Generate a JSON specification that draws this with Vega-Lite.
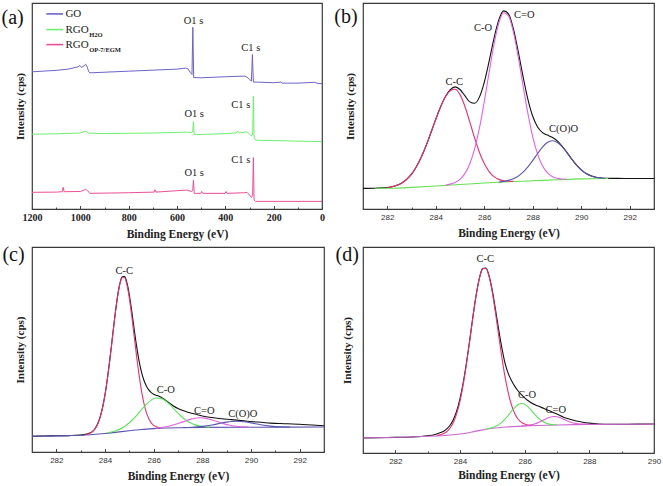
{
"$schema": "https://vega.github.io/schema/vega-lite/v6.json",
"padding": {"left": 0, "top": 2, "right": 5, "bottom": 0},
"columns": 2,
"spacing": {"row": 2, "column": 6},
"resolve": {"scale": {"color": "independent", "x": "independent", "y": "independent"}},
"config": {
 "view": {"stroke": "#3a3a3a", "strokeWidth": 1.2},
 "font": "Liberation Serif",
 "axis": {"grid": false, "domain": false, "titleFont": "Liberation Serif", "titleFontWeight": "bold", "titleFontSize": 11.5, "titleColor": "#222", "labelFont": "Liberation Sans", "labelFontSize": 8, "labelColor": "#333", "tickColor": "#444", "tickWidth": 1, "labelFlush": false, "labelOverlap": false},
 "axisY": {"ticks": false, "labels": false, "titleFontSize": 11}
},
"datasets": {
 "a": [
  {"e":1200,"i":66.6,"s":"GO"},{"e":1100,"i":67.3,"s":"GO"},{"e":1050,"i":67.9,"s":"GO"},{"e":1010,"i":69.0,"s":"GO"},{"e":1002,"i":69.7,"s":"GO"},{"e":995,"i":68.7,"s":"GO"},{"e":985,"i":69.5,"s":"GO"},{"e":978,"i":70.3,"s":"GO"},{"e":972,"i":69.0,"s":"GO"},{"e":965,"i":66.6,"s":"GO"},{"e":960,"i":66.1,"s":"GO"},{"e":800,"i":66.9,"s":"GO"},{"e":600,"i":67.9,"s":"GO"},{"e":565,"i":68.4,"s":"GO"},{"e":555,"i":68.1,"s":"GO"},{"e":545,"i":66.3,"s":"GO"},{"e":538,"i":65.3,"s":"GO"},{"e":534.5,"i":88.2,"s":"GO"},{"e":531,"i":63.8,"s":"GO"},{"e":500,"i":63.7,"s":"GO"},{"e":400,"i":64.2,"s":"GO"},{"e":320,"i":64.5,"s":"GO"},{"e":310,"i":64.0,"s":"GO"},{"e":300,"i":62.9,"s":"GO"},{"e":292,"i":62.1,"s":"GO"},{"e":288,"i":75.0,"s":"GO"},{"e":284,"i":61.6,"s":"GO"},{"e":270,"i":61.6,"s":"GO"},{"e":200,"i":61.3,"s":"GO"},{"e":170,"i":61.6,"s":"GO"},{"e":165,"i":61.1,"s":"GO"},{"e":100,"i":61.1,"s":"GO"},{"e":30,"i":61.5,"s":"GO"},{"e":20,"i":61.0,"s":"GO"},{"e":0,"i":60.8,"s":"GO"},
  {"e":1200,"i":36.3,"s":"H2O"},{"e":1100,"i":36.5,"s":"H2O"},{"e":1000,"i":36.9,"s":"H2O"},{"e":978,"i":37.9,"s":"H2O"},{"e":970,"i":36.9,"s":"H2O"},{"e":900,"i":36.6,"s":"H2O"},{"e":700,"i":36.9,"s":"H2O"},{"e":560,"i":37.3,"s":"H2O"},{"e":540,"i":37.1,"s":"H2O"},{"e":535,"i":37.4,"s":"H2O"},{"e":532,"i":42.4,"s":"H2O"},{"e":529,"i":36.3,"s":"H2O"},{"e":520,"i":36.1,"s":"H2O"},{"e":400,"i":36.6,"s":"H2O"},{"e":355,"i":36.9,"s":"H2O"},{"e":349,"i":37.9,"s":"H2O"},{"e":343,"i":36.9,"s":"H2O"},{"e":320,"i":37.3,"s":"H2O"},{"e":310,"i":37.4,"s":"H2O"},{"e":300,"i":36.3,"s":"H2O"},{"e":292,"i":35.5,"s":"H2O"},{"e":287,"i":36.3,"s":"H2O"},{"e":284,"i":54.8,"s":"H2O"},{"e":281,"i":34.7,"s":"H2O"},{"e":275,"i":33.4,"s":"H2O"},{"e":200,"i":33.2,"s":"H2O"},{"e":0,"i":32.7,"s":"H2O"},
  {"e":1200,"i":8.1,"s":"OP"},{"e":1100,"i":8.2,"s":"OP"},{"e":1075,"i":8.4,"s":"OP"},{"e":1071,"i":10.5,"s":"OP"},{"e":1067,"i":8.4,"s":"OP"},{"e":1000,"i":8.5,"s":"OP"},{"e":978,"i":9.5,"s":"OP"},{"e":970,"i":8.9,"s":"OP"},{"e":960,"i":7.6,"s":"OP"},{"e":800,"i":7.9,"s":"OP"},{"e":695,"i":8.2,"s":"OP"},{"e":691,"i":9.4,"s":"OP"},{"e":687,"i":8.2,"s":"OP"},{"e":560,"i":9.2,"s":"OP"},{"e":540,"i":8.5,"s":"OP"},{"e":535,"i":8.9,"s":"OP"},{"e":532,"i":14.0,"s":"OP"},{"e":529,"i":7.6,"s":"OP"},{"e":502,"i":7.6,"s":"OP"},{"e":498,"i":8.5,"s":"OP"},{"e":494,"i":7.6,"s":"OP"},{"e":401,"i":7.6,"s":"OP"},{"e":397,"i":8.5,"s":"OP"},{"e":393,"i":7.6,"s":"OP"},{"e":320,"i":7.9,"s":"OP"},{"e":310,"i":8.1,"s":"OP"},{"e":300,"i":6.8,"s":"OP"},{"e":292,"i":5.6,"s":"OP"},{"e":287,"i":6.5,"s":"OP"},{"e":284,"i":25.0,"s":"OP"},{"e":281,"i":4.4,"s":"OP"},{"e":275,"i":3.7,"s":"OP"},{"e":0,"i":3.7,"s":"OP"}
 ],
 "aleg": [
  {"e":1140.6,"i":94.7,"s":"GO"},{"e":1071.4,"i":94.7,"s":"GO"},
  {"e":1140.6,"i":87.1,"s":"H2O"},{"e":1071.4,"i":87.1,"s":"H2O"},
  {"e":1140.6,"i":79.8,"s":"OP"},{"e":1071.4,"i":79.8,"s":"OP"}
 ],
 "alab": [
  {"e":532,"i":91.1,"t":"O1 s","k":"peak"},{"e":294.5,"i":78.2,"t":"C1 s","k":"peak"},
  {"e":529,"i":46,"t":"O1 s","k":"peak"},{"e":336,"i":50.5,"t":"C1 s","k":"peak"},
  {"e":529,"i":17.6,"t":"O1 s","k":"peak"},{"e":336,"i":23.7,"t":"C1 s","k":"peak"},
  {"e":1061.7,"i":94.7,"t":"GO","k":"main"},{"e":1061.7,"i":87.1,"t":"RGO","k":"main"},{"e":1061.7,"i":79.8,"t":"RGO","k":"main"},
  {"e":963.5,"i":84.6,"t":"H2O","k":"sub"},{"e":963.5,"i":77.3,"t":"OP-7/EGM","k":"sub"},
  {"e":1280,"i":92.7,"t":"(a)","k":"panel"}
 ],
 "b": [
  {"e":281,"i":10.0,"s":"env"},{"e":281.5,"i":10.1,"s":"env"},{"e":282,"i":10.4,"s":"env"},{"e":282.2,"i":10.8,"s":"env"},{"e":282.4,"i":11.5,"s":"env"},{"e":282.6,"i":12.65,"s":"env"},{"e":282.8,"i":14.4,"s":"env"},{"e":283.0,"i":16.9,"s":"env"},{"e":283.2,"i":20.5,"s":"env"},{"e":283.4,"i":25.1,"s":"env"},{"e":283.6,"i":30.7,"s":"env"},{"e":283.8,"i":37.0,"s":"env"},{"e":284.0,"i":43.5,"s":"env"},{"e":284.2,"i":49.6,"s":"env"},{"e":284.4,"i":54.6,"s":"env"},{"e":284.6,"i":57.9,"s":"env"},{"e":284.8,"i":59.3,"s":"env"},{"e":285.0,"i":58.0,"s":"env"},{"e":285.2,"i":55.0,"s":"env"},{"e":285.4,"i":52.0,"s":"env"},{"e":285.6,"i":51.3,"s":"env"},{"e":285.8,"i":54.3,"s":"env"},{"e":286.0,"i":61.5,"s":"env"},{"e":286.2,"i":71.7,"s":"env"},{"e":286.4,"i":82.75,"s":"env"},{"e":286.6,"i":91.8,"s":"env"},{"e":286.8,"i":96.2,"s":"env"},{"e":287.0,"i":94.7,"s":"env"},{"e":287.2,"i":87.5,"s":"env"},{"e":287.4,"i":76.5,"s":"env"},{"e":287.6,"i":64.3,"s":"env"},{"e":287.8,"i":53.25,"s":"env"},{"e":288.0,"i":45.0,"s":"env"},{"e":288.2,"i":39.8,"s":"env"},{"e":288.4,"i":37.1,"s":"env"},{"e":288.6,"i":35.9,"s":"env"},{"e":288.8,"i":34.8,"s":"env"},{"e":289.0,"i":33.2,"s":"env"},{"e":289.2,"i":30.7,"s":"env"},{"e":289.4,"i":27.6,"s":"env"},{"e":289.6,"i":24.3,"s":"env"},{"e":289.8,"i":21.4,"s":"env"},{"e":290.0,"i":19.0,"s":"env"},{"e":290.2,"i":17.2,"s":"env"},{"e":290.4,"i":16.1,"s":"env"},{"e":290.6,"i":15.4,"s":"env"},{"e":290.8,"i":15.1,"s":"env"},{"e":291.0,"i":14.9,"s":"env"},{"e":291.5,"i":14.85,"s":"env"},{"e":292,"i":14.8,"s":"env"},{"e":293,"i":14.8,"s":"env"},
  {"e":281.5,"i":10.05,"s":"base"},{"e":282.2,"i":10.1,"s":"base"},{"e":283,"i":10.5,"s":"base"},{"e":284,"i":11.2,"s":"base"},{"e":285,"i":11.9,"s":"base"},{"e":286,"i":12.6,"s":"base"},{"e":287,"i":13.2,"s":"base"},{"e":288,"i":13.7,"s":"base"},{"e":289,"i":14.2,"s":"base"},{"e":290,"i":14.6,"s":"base"},{"e":291.1,"i":14.8,"s":"base"},
  {"e":282.0,"i":10.43,"s":"cc"},{"e":282.2,"i":10.8,"s":"cc"},{"e":282.4,"i":11.52,"s":"cc"},{"e":282.6,"i":12.65,"s":"cc"},{"e":282.8,"i":14.39,"s":"cc"},{"e":283.0,"i":16.94,"s":"cc"},{"e":283.2,"i":20.5,"s":"cc"},{"e":283.4,"i":25.12,"s":"cc"},{"e":283.6,"i":30.72,"s":"cc"},{"e":283.8,"i":37.03,"s":"cc"},{"e":284.0,"i":43.54,"s":"cc"},{"e":284.2,"i":49.59,"s":"cc"},{"e":284.4,"i":54.45,"s":"cc"},{"e":284.6,"i":57.45,"s":"cc"},{"e":284.8,"i":58.14,"s":"cc"},{"e":285.0,"i":55.53,"s":"cc"},{"e":285.2,"i":49.86,"s":"cc"},{"e":285.4,"i":42.4,"s":"cc"},{"e":285.6,"i":34.57,"s":"cc"},{"e":285.8,"i":27.56,"s":"cc"},{"e":286.0,"i":22.04,"s":"cc"},{"e":286.2,"i":18.16,"s":"cc"},{"e":286.4,"i":15.73,"s":"cc"},{"e":286.6,"i":14.38,"s":"cc"},{"e":286.8,"i":13.72,"s":"cc"},{"e":287.0,"i":13.47,"s":"cc"},{"e":287.2,"i":13.4,"s":"cc"},
  {"e":284.4,"i":11.66,"s":"ceo"},{"e":284.6,"i":12.09,"s":"ceo"},{"e":284.8,"i":12.89,"s":"ceo"},{"e":285.0,"i":14.4,"s":"ceo"},{"e":285.2,"i":17.17,"s":"ceo"},{"e":285.4,"i":21.82,"s":"ceo"},{"e":285.6,"i":29.06,"s":"ceo"},{"e":285.8,"i":39.22,"s":"ceo"},{"e":286.0,"i":52.02,"s":"ceo"},{"e":286.2,"i":66.26,"s":"ceo"},{"e":286.4,"i":79.86,"s":"ceo"},{"e":286.6,"i":90.27,"s":"ceo"},{"e":286.8,"i":95.27,"s":"ceo"},{"e":287.0,"i":93.73,"s":"ceo"},{"e":287.2,"i":86.02,"s":"ceo"},{"e":287.4,"i":73.9,"s":"ceo"},{"e":287.6,"i":59.9,"s":"ceo"},{"e":287.8,"i":46.4,"s":"ceo"},{"e":288.0,"i":35.07,"s":"ceo"},{"e":288.2,"i":26.64,"s":"ceo"},{"e":288.4,"i":20.99,"s":"ceo"},{"e":288.6,"i":17.62,"s":"ceo"},{"e":288.8,"i":15.8,"s":"ceo"},{"e":289.0,"i":14.93,"s":"ceo"},{"e":289.2,"i":14.58,"s":"ceo"},{"e":289.4,"i":14.46,"s":"ceo"},
  {"e":286.6,"i":13.09,"s":"coo"},{"e":286.8,"i":13.4,"s":"coo"},{"e":287.0,"i":13.9,"s":"coo"},{"e":287.2,"i":14.69,"s":"coo"},{"e":287.4,"i":15.97,"s":"coo"},{"e":287.6,"i":17.87,"s":"coo"},{"e":287.8,"i":20.45,"s":"coo"},{"e":288.0,"i":23.59,"s":"coo"},{"e":288.2,"i":26.96,"s":"coo"},{"e":288.4,"i":30.04,"s":"coo"},{"e":288.6,"i":32.24,"s":"coo"},{"e":288.8,"i":33.1,"s":"coo"},{"e":289.0,"i":32.44,"s":"coo"},{"e":289.2,"i":30.42,"s":"coo"},{"e":289.4,"i":27.52,"s":"coo"},{"e":289.6,"i":24.33,"s":"coo"},{"e":289.8,"i":21.37,"s":"coo"},{"e":290.0,"i":18.97,"s":"coo"},{"e":290.2,"i":17.21,"s":"coo"},{"e":290.4,"i":16.07,"s":"coo"},{"e":290.6,"i":15.42,"s":"coo"},{"e":290.8,"i":15.08,"s":"coo"},{"e":291.0,"i":14.93,"s":"coo"}
 ],
 "blab": [
  {"e":284.76,"i":61.7,"t":"C-C","k":"peak"},{"e":285.95,"i":87.9,"t":"C-O","k":"peak"},{"e":287.65,"i":94.3,"t":"C=O","k":"peak"},{"e":289.27,"i":38.7,"t":"C(O)O","k":"peak"},
  {"e":280.3,"i":93.1,"t":"(b)","k":"panel"}
 ],
 "c": [
  {"e":281,"i":7.7,"s":"env"},{"e":281.5,"i":7.8,"s":"env"},{"e":282,"i":7.9,"s":"env"},{"e":282.5,"i":8.0,"s":"env"},{"e":283.0,"i":8.3,"s":"env"},{"e":283.2,"i":8.6,"s":"env"},{"e":283.4,"i":9.4,"s":"env"},{"e":283.5,"i":10.2,"s":"env"},{"e":283.6,"i":11.6,"s":"env"},{"e":283.7,"i":13.8,"s":"env"},{"e":283.8,"i":17.1,"s":"env"},{"e":283.9,"i":21.8,"s":"env"},{"e":284.0,"i":28.0,"s":"env"},{"e":284.1,"i":36.0,"s":"env"},{"e":284.2,"i":45.3,"s":"env"},{"e":284.3,"i":55.5,"s":"env"},{"e":284.4,"i":65.6,"s":"env"},{"e":284.5,"i":74.7,"s":"env"},{"e":284.6,"i":81.6,"s":"env"},{"e":284.7,"i":85.4,"s":"env"},{"e":284.8,"i":85.7,"s":"env"},{"e":284.9,"i":82.6,"s":"env"},{"e":285.0,"i":76.6,"s":"env"},{"e":285.1,"i":68.6,"s":"env"},{"e":285.2,"i":59.8,"s":"env"},{"e":285.3,"i":51.5,"s":"env"},{"e":285.4,"i":44.5,"s":"env"},{"e":285.5,"i":39.0,"s":"env"},{"e":285.6,"i":35.0,"s":"env"},{"e":285.7,"i":32.2,"s":"env"},{"e":285.8,"i":30.3,"s":"env"},{"e":285.9,"i":29.0,"s":"env"},{"e":286.0,"i":28.2,"s":"env"},{"e":286.1,"i":27.7,"s":"env"},{"e":286.2,"i":27.3,"s":"env"},{"e":286.4,"i":26.0,"s":"env"},{"e":286.6,"i":24.3,"s":"env"},{"e":286.8,"i":22.6,"s":"env"},{"e":287.0,"i":21.2,"s":"env"},{"e":287.2,"i":20.2,"s":"env"},{"e":287.4,"i":19.4,"s":"env"},{"e":287.7,"i":18.5,"s":"env"},{"e":288.0,"i":17.6,"s":"env"},{"e":288.4,"i":16.8,"s":"env"},{"e":288.8,"i":16.2,"s":"env"},{"e":289.2,"i":15.8,"s":"env"},{"e":289.6,"i":15.3,"s":"env"},{"e":290.0,"i":14.9,"s":"env"},{"e":290.8,"i":14.1,"s":"env"},{"e":291.5,"i":13.8,"s":"env"},{"e":292.0,"i":13.5,"s":"env"},{"e":292.5,"i":13.2,"s":"env"},{"e":293.0,"i":12.8,"s":"env"},
  {"e":281,"i":7.7,"s":"base"},{"e":282.5,"i":8.0,"s":"base"},{"e":283,"i":8.2,"s":"base"},{"e":283.5,"i":8.5,"s":"base"},{"e":284,"i":9.0,"s":"base"},{"e":284.5,"i":9.7,"s":"base"},{"e":285,"i":10.4,"s":"base"},{"e":285.5,"i":11.0,"s":"base"},{"e":286,"i":11.4,"s":"base"},{"e":286.5,"i":11.7,"s":"base"},{"e":287,"i":11.85,"s":"base"},{"e":288,"i":12.0,"s":"base"},{"e":290,"i":12.1,"s":"base"},{"e":293,"i":12.2,"s":"base"},
  {"e":283.2,"i":8.5,"s":"cc"},{"e":283.3,"i":8.8,"s":"cc"},{"e":283.4,"i":9.28,"s":"cc"},{"e":283.5,"i":10.09,"s":"cc"},{"e":283.6,"i":11.48,"s":"cc"},{"e":283.7,"i":13.66,"s":"cc"},{"e":283.8,"i":16.93,"s":"cc"},{"e":283.9,"i":21.58,"s":"cc"},{"e":284.0,"i":27.83,"s":"cc"},{"e":284.1,"i":35.74,"s":"cc"},{"e":284.2,"i":45.05,"s":"cc"},{"e":284.3,"i":55.21,"s":"cc"},{"e":284.4,"i":65.35,"s":"cc"},{"e":284.5,"i":74.4,"s":"cc"},{"e":284.6,"i":81.26,"s":"cc"},{"e":284.7,"i":85.01,"s":"cc"},{"e":284.8,"i":85.15,"s":"cc"},{"e":284.9,"i":81.68,"s":"cc"},{"e":285.0,"i":75.1,"s":"cc"},{"e":285.1,"i":66.31,"s":"cc"},{"e":285.2,"i":56.43,"s":"cc"},{"e":285.3,"i":46.53,"s":"cc"},{"e":285.4,"i":37.48,"s":"cc"},{"e":285.5,"i":29.83,"s":"cc"},{"e":285.6,"i":23.76,"s":"cc"},{"e":285.7,"i":19.29,"s":"cc"},{"e":285.8,"i":16.2,"s":"cc"},{"e":285.9,"i":14.2,"s":"cc"},{"e":286.0,"i":12.99,"s":"cc"},{"e":286.1,"i":12.3,"s":"cc"},{"e":286.2,"i":11.94,"s":"cc"},{"e":286.3,"i":11.78,"s":"cc"},
  {"e":284.1,"i":9.34,"s":"co"},{"e":284.3,"i":9.87,"s":"co"},{"e":284.5,"i":10.63,"s":"co"},{"e":284.7,"i":11.72,"s":"co"},{"e":284.9,"i":13.29,"s":"co"},{"e":285.1,"i":15.36,"s":"co"},{"e":285.3,"i":17.89,"s":"co"},{"e":285.5,"i":20.68,"s":"co"},{"e":285.7,"i":23.28,"s":"co"},{"e":285.9,"i":25.3,"s":"co"},{"e":286.1,"i":26.32,"s":"co"},{"e":286.3,"i":26.14,"s":"co"},{"e":286.5,"i":24.85,"s":"co"},{"e":286.7,"i":22.7,"s":"co"},{"e":286.9,"i":20.21,"s":"co"},{"e":287.1,"i":17.8,"s":"co"},{"e":287.3,"i":15.76,"s":"co"},{"e":287.5,"i":14.25,"s":"co"},{"e":287.7,"i":13.24,"s":"co"},{"e":287.9,"i":12.64,"s":"co"},{"e":288.1,"i":12.31,"s":"co"},{"e":288.3,"i":12.13,"s":"co"},
  {"e":286.1,"i":11.63,"s":"ceo"},{"e":286.3,"i":11.92,"s":"ceo"},{"e":286.5,"i":12.34,"s":"ceo"},{"e":286.7,"i":12.84,"s":"ceo"},{"e":286.9,"i":13.51,"s":"ceo"},{"e":287.1,"i":14.31,"s":"ceo"},{"e":287.3,"i":15.15,"s":"ceo"},{"e":287.5,"i":15.92,"s":"ceo"},{"e":287.7,"i":16.47,"s":"ceo"},{"e":287.9,"i":16.69,"s":"ceo"},{"e":288.1,"i":16.51,"s":"ceo"},{"e":288.3,"i":16.0,"s":"ceo"},{"e":288.5,"i":15.28,"s":"ceo"},{"e":288.7,"i":14.48,"s":"ceo"},{"e":288.9,"i":13.73,"s":"ceo"},{"e":289.1,"i":13.13,"s":"ceo"},{"e":289.3,"i":12.7,"s":"ceo"},{"e":289.5,"i":12.41,"s":"ceo"},{"e":289.7,"i":12.25,"s":"ceo"},{"e":289.9,"i":12.17,"s":"ceo"},
  {"e":287.2,"i":11.92,"s":"coo"},{"e":287.6,"i":12.1,"s":"coo"},{"e":288.0,"i":12.51,"s":"coo"},{"e":288.4,"i":13.2,"s":"coo"},{"e":288.8,"i":14.15,"s":"coo"},{"e":289.0,"i":14.57,"s":"coo"},{"e":289.2,"i":14.86,"s":"coo"},{"e":289.4,"i":14.97,"s":"coo"},{"e":289.6,"i":14.88,"s":"coo"},{"e":289.8,"i":14.61,"s":"coo"},{"e":290.0,"i":14.21,"s":"coo"},{"e":290.4,"i":13.3,"s":"coo"},{"e":290.8,"i":12.64,"s":"coo"},{"e":291.2,"i":12.3,"s":"coo"},{"e":291.6,"i":12.2,"s":"coo"}
 ],
 "clab": [
  {"e":284.79,"i":88.1,"t":"C-C","k":"peak"},{"e":286.5,"i":30.2,"t":"C-O","k":"peak"},{"e":288.08,"i":19.8,"t":"C=O","k":"peak"},{"e":289.66,"i":18.5,"t":"C(O)O","k":"peak"},
  {"e":280.24,"i":96.3,"t":"(c)","k":"panel"}
 ],
 "d": [
  {"e":281,"i":7.3,"s":"env"},{"e":281.5,"i":7.4,"s":"env"},{"e":282,"i":7.6,"s":"env"},{"e":282.5,"i":7.8,"s":"env"},{"e":283.0,"i":8.4,"s":"env"},{"e":283.2,"i":8.9,"s":"env"},{"e":283.4,"i":9.9,"s":"env"},{"e":283.5,"i":10.6,"s":"env"},{"e":283.6,"i":11.8,"s":"env"},{"e":283.7,"i":13.6,"s":"env"},{"e":283.8,"i":16.4,"s":"env"},{"e":283.9,"i":20.5,"s":"env"},{"e":284.0,"i":26.4,"s":"env"},{"e":284.1,"i":34.2,"s":"env"},{"e":284.2,"i":43.8,"s":"env"},{"e":284.3,"i":54.8,"s":"env"},{"e":284.4,"i":66.2,"s":"env"},{"e":284.5,"i":76.7,"s":"env"},{"e":284.6,"i":84.9,"s":"env"},{"e":284.7,"i":89.5,"s":"env"},{"e":284.8,"i":89.8,"s":"env"},{"e":284.9,"i":86.0,"s":"env"},{"e":285.0,"i":78.8,"s":"env"},{"e":285.1,"i":69.4,"s":"env"},{"e":285.2,"i":59.5,"s":"env"},{"e":285.3,"i":50.5,"s":"env"},{"e":285.4,"i":43.1,"s":"env"},{"e":285.5,"i":38.3,"s":"env"},{"e":285.6,"i":34.9,"s":"env"},{"e":285.7,"i":32.2,"s":"env"},{"e":285.8,"i":30.1,"s":"env"},{"e":285.9,"i":28.3,"s":"env"},{"e":286.0,"i":26.8,"s":"env"},{"e":286.1,"i":25.5,"s":"env"},{"e":286.2,"i":24.4,"s":"env"},{"e":286.4,"i":22.9,"s":"env"},{"e":286.6,"i":21.6,"s":"env"},{"e":286.8,"i":20.3,"s":"env"},{"e":287.0,"i":18.9,"s":"env"},{"e":287.2,"i":17.4,"s":"env"},{"e":287.4,"i":16.4,"s":"env"},{"e":287.6,"i":15.5,"s":"env"},{"e":287.8,"i":14.9,"s":"env"},{"e":288.0,"i":14.5,"s":"env"},{"e":288.3,"i":14.1,"s":"env"},{"e":288.6,"i":13.95,"s":"env"},{"e":289.0,"i":13.95,"s":"env"},{"e":289.5,"i":14.0,"s":"env"},{"e":290,"i":14.1,"s":"env"},
  {"e":281,"i":7.3,"s":"base"},{"e":282.4,"i":7.8,"s":"base"},{"e":283,"i":8.1,"s":"base"},{"e":283.5,"i":8.5,"s":"base"},{"e":284,"i":9.2,"s":"base"},{"e":284.5,"i":10.6,"s":"base"},{"e":285,"i":12.0,"s":"base"},{"e":285.5,"i":12.7,"s":"base"},{"e":286,"i":13.1,"s":"base"},{"e":287,"i":13.6,"s":"base"},{"e":288,"i":13.9,"s":"base"},{"e":290,"i":14.0,"s":"base"},
  {"e":283.3,"i":8.54,"s":"cc"},{"e":283.4,"i":8.87,"s":"cc"},{"e":283.5,"i":9.44,"s":"cc"},{"e":283.6,"i":10.49,"s":"cc"},{"e":283.7,"i":12.24,"s":"cc"},{"e":283.8,"i":15.03,"s":"cc"},{"e":283.9,"i":19.23,"s":"cc"},{"e":284.0,"i":25.2,"s":"cc"},{"e":284.1,"i":33.27,"s":"cc"},{"e":284.2,"i":43.19,"s":"cc"},{"e":284.3,"i":54.43,"s":"cc"},{"e":284.4,"i":66.01,"s":"cc"},{"e":284.5,"i":76.6,"s":"cc"},{"e":284.6,"i":84.81,"s":"cc"},{"e":284.7,"i":89.4,"s":"cc"},{"e":284.8,"i":89.68,"s":"cc"},{"e":284.9,"i":85.65,"s":"cc"},{"e":285.0,"i":78.0,"s":"cc"},{"e":285.1,"i":67.83,"s":"cc"},{"e":285.2,"i":56.67,"s":"cc"},{"e":285.3,"i":45.85,"s":"cc"},{"e":285.4,"i":36.35,"s":"cc"},{"e":285.5,"i":28.7,"s":"cc"},{"e":285.6,"i":22.95,"s":"cc"},{"e":285.7,"i":18.97,"s":"cc"},{"e":285.8,"i":16.4,"s":"cc"},{"e":285.9,"i":14.87,"s":"cc"},{"e":286.0,"i":14.04,"s":"cc"},{"e":286.1,"i":13.6,"s":"cc"},{"e":286.2,"i":13.4,"s":"cc"},
  {"e":284.8,"i":11.52,"s":"co"},{"e":284.9,"i":11.91,"s":"co"},{"e":285.0,"i":12.4,"s":"co"},{"e":285.1,"i":12.95,"s":"co"},{"e":285.2,"i":13.77,"s":"co"},{"e":285.3,"i":14.95,"s":"co"},{"e":285.4,"i":16.52,"s":"co"},{"e":285.5,"i":18.42,"s":"co"},{"e":285.6,"i":20.4,"s":"co"},{"e":285.7,"i":22.2,"s":"co"},{"e":285.8,"i":23.5,"s":"co"},{"e":285.9,"i":24.02,"s":"co"},{"e":286.0,"i":23.66,"s":"co"},{"e":286.1,"i":22.49,"s":"co"},{"e":286.2,"i":20.82,"s":"co"},{"e":286.3,"i":18.97,"s":"co"},{"e":286.4,"i":17.26,"s":"co"},{"e":286.5,"i":15.88,"s":"co"},{"e":286.6,"i":14.89,"s":"co"},{"e":286.7,"i":14.26,"s":"co"},{"e":286.8,"i":13.9,"s":"co"},{"e":286.9,"i":13.74,"s":"co"},{"e":287.0,"i":13.68,"s":"co"},
  {"e":285.9,"i":13.06,"s":"ceo"},{"e":286.0,"i":13.2,"s":"ceo"},{"e":286.1,"i":13.37,"s":"ceo"},{"e":286.2,"i":13.64,"s":"ceo"},{"e":286.3,"i":14.05,"s":"ceo"},{"e":286.4,"i":14.62,"s":"ceo"},{"e":286.5,"i":15.34,"s":"ceo"},{"e":286.6,"i":16.15,"s":"ceo"},{"e":286.7,"i":16.9,"s":"ceo"},{"e":286.8,"i":17.46,"s":"ceo"},{"e":286.9,"i":17.7,"s":"ceo"},{"e":287.0,"i":17.56,"s":"ceo"},{"e":287.1,"i":17.09,"s":"ceo"},{"e":287.2,"i":16.43,"s":"ceo"},{"e":287.3,"i":15.71,"s":"ceo"},{"e":287.4,"i":15.08,"s":"ceo"},{"e":287.5,"i":14.6,"s":"ceo"},{"e":287.6,"i":14.28,"s":"ceo"},{"e":287.7,"i":14.1,"s":"ceo"},{"e":287.8,"i":14.02,"s":"ceo"},{"e":287.9,"i":14.0,"s":"ceo"}
 ],
 "dlab": [
  {"e":284.78,"i":94.3,"t":"C-C","k":"peak"},{"e":286.07,"i":28.2,"t":"C-O","k":"peak"},{"e":286.96,"i":20.9,"t":"C=O","k":"peak"},
  {"e":280.51,"i":96.3,"t":"(d)","k":"panel"}
 ]
},
"concat": [
 {
  "width": 290, "height": 206,
  "resolve": {"axis": {"x": "independent"}},
  "layer": [
   {"data": {"name": "a"}, "mark": {"type": "line", "interpolate": "linear", "strokeWidth": 1},
    "encoding": {
     "x": {"field": "e", "type": "quantitative", "scale": {"domain": [0, 1200], "reverse": true, "nice": false, "zero": false},
       "axis": {"orient": "bottom", "title": "Binding Energy (eV)", "values": [0,200,400,600,800,1000,1200], "format": "d", "tickSize": -3.5, "labelFont": "Liberation Serif", "labelFontWeight": "bold", "labelFontSize": 10, "labelColor": "#222", "labelPadding": 6.5, "titlePadding": 6}},
     "y": {"field": "i", "type": "quantitative", "scale": {"domain": [0, 100], "nice": false, "zero": false}, "axis": {"title": "Intensity (cps)", "titlePadding": 6.5}},
     "color": {"field": "s", "type": "nominal", "scale": {"domain": ["GO", "H2O", "OP"], "range": ["#6b63c9", "#6ef06e", "#ee4f96"]}, "legend": null}
    }},
   {"data": {"name": "aleg"}, "mark": {"type": "line", "strokeWidth": 1.6},
    "encoding": {"x": {"field": "e", "type": "quantitative", "axis": {"orient": "bottom", "values": [100,300,500,700,900,1100], "labels": false, "title": null, "tickSize": -2}}, "y": {"field": "i", "type": "quantitative"}, "color": {"field": "s", "type": "nominal", "legend": null}}},
   {"data": {"name": "alab"}, "transform": [{"filter": "datum.k === 'peak'"}], "mark": {"type": "text", "font": "Liberation Serif", "fontSize": 10.5, "color": "#222", "align": "center", "baseline": "middle"},
    "encoding": {"x": {"field": "e", "type": "quantitative", "axis": null}, "y": {"field": "i", "type": "quantitative"}, "text": {"field": "t"}}},
   {"data": {"name": "alab"}, "transform": [{"filter": "datum.k === 'main'"}], "mark": {"type": "text", "font": "Liberation Serif", "fontSize": 11, "color": "#222", "align": "left", "baseline": "middle"},
    "encoding": {"x": {"field": "e", "type": "quantitative", "axis": null}, "y": {"field": "i", "type": "quantitative"}, "text": {"field": "t"}}},
   {"data": {"name": "alab"}, "transform": [{"filter": "datum.k === 'sub'"}], "mark": {"type": "text", "font": "Liberation Serif", "fontSize": 6.5, "fontWeight": "bold", "color": "#222", "align": "left", "baseline": "middle"},
    "encoding": {"x": {"field": "e", "type": "quantitative", "axis": null}, "y": {"field": "i", "type": "quantitative"}, "text": {"field": "t"}}},
   {"data": {"name": "alab"}, "transform": [{"filter": "datum.k === 'panel'"}], "mark": {"type": "text", "font": "Liberation Serif", "fontSize": 20, "color": "#111", "align": "center", "baseline": "middle"},
    "encoding": {"x": {"field": "e", "type": "quantitative", "axis": null}, "y": {"field": "i", "type": "quantitative"}, "text": {"field": "t"}}}
  ]
 },
 {
  "width": 291, "height": 206,
  "resolve": {"axis": {"x": "independent"}},
  "layer": [
   {"data": {"name": "b"}, "mark": {"type": "line", "interpolate": "monotone", "strokeWidth": 1.1},
    "encoding": {
     "x": {"field": "e", "type": "quantitative", "scale": {"domain": [281, 293], "nice": false, "zero": false},
       "axis": {"orient": "bottom", "title": "Binding Energy (eV)", "values": [282,284,286,288,290,292], "format": "d", "tickSize": -3.5, "labelFont": "Liberation Sans", "labelFontSize": 8, "labelColor": "#333", "labelPadding": 8, "titlePadding": 6}},
     "y": {"field": "i", "type": "quantitative", "scale": {"domain": [0, 100], "nice": false, "zero": false}, "axis": {"title": "Intensity (cps)", "titlePadding": 7.5}},
     "color": {"field": "s", "type": "nominal", "scale": {"domain": ["env", "base", "cc", "ceo", "coo"], "range": ["#111111", "#66e04e", "#e5336e", "#e063e0", "#5a55b0"]}, "legend": null}
    }},
   {"data": {"name": "blab"}, "transform": [{"filter": "datum.k === 'peak'"}], "mark": {"type": "text", "font": "Liberation Serif", "fontSize": 10.5, "color": "#222", "align": "center", "baseline": "middle"},
    "encoding": {"x": {"field": "e", "type": "quantitative", "axis": {"orient": "bottom", "values": [281,283,285,287,289,291,293], "labels": false, "title": null, "tickSize": -2}}, "y": {"field": "i", "type": "quantitative"}, "text": {"field": "t"}}},
   {"data": {"name": "blab"}, "transform": [{"filter": "datum.k === 'panel'"}], "mark": {"type": "text", "font": "Liberation Serif", "fontSize": 20, "color": "#111", "align": "center", "baseline": "middle"},
    "encoding": {"x": {"field": "e", "type": "quantitative", "axis": null}, "y": {"field": "i", "type": "quantitative"}, "text": {"field": "t"}}}
  ]
 },
 {
  "width": 292, "height": 205,
  "resolve": {"axis": {"x": "independent"}},
  "layer": [
   {"data": {"name": "c"}, "mark": {"type": "line", "interpolate": "monotone", "strokeWidth": 1.1},
    "encoding": {
     "x": {"field": "e", "type": "quantitative", "scale": {"domain": [281, 293], "nice": false, "zero": false},
       "axis": {"orient": "bottom", "title": "Binding Energy (eV)", "values": [282,284,286,288,290,292], "format": "d", "tickSize": -3.5, "labelFont": "Liberation Sans", "labelFontSize": 8, "labelColor": "#333", "labelPadding": 8, "titlePadding": 6}},
     "y": {"field": "i", "type": "quantitative", "scale": {"domain": [0, 100], "nice": false, "zero": false}, "axis": {"title": "Intensity (cps)", "titlePadding": 7}},
     "color": {"field": "s", "type": "nominal", "scale": {"domain": ["env", "base", "cc", "co", "ceo", "coo"], "range": ["#111111", "#5a55b0", "#e5336e", "#5ee05e", "#e063e0", "#5a55b0"]}, "legend": null}
    }},
   {"data": {"name": "clab"}, "transform": [{"filter": "datum.k === 'peak'"}], "mark": {"type": "text", "font": "Liberation Serif", "fontSize": 10.5, "color": "#222", "align": "center", "baseline": "middle"},
    "encoding": {"x": {"field": "e", "type": "quantitative", "axis": {"orient": "bottom", "values": [281,283,285,287,289,291,293], "labels": false, "title": null, "tickSize": -2}}, "y": {"field": "i", "type": "quantitative"}, "text": {"field": "t"}}},
   {"data": {"name": "clab"}, "transform": [{"filter": "datum.k === 'panel'"}], "mark": {"type": "text", "font": "Liberation Serif", "fontSize": 20, "color": "#111", "align": "center", "baseline": "middle"},
    "encoding": {"x": {"field": "e", "type": "quantitative", "axis": null}, "y": {"field": "i", "type": "quantitative"}, "text": {"field": "t"}}}
  ]
 },
 {
  "width": 291, "height": 206,
  "resolve": {"axis": {"x": "independent"}},
  "layer": [
   {"data": {"name": "d"}, "mark": {"type": "line", "interpolate": "monotone", "strokeWidth": 1.1},
    "encoding": {
     "x": {"field": "e", "type": "quantitative", "scale": {"domain": [281, 290], "nice": false, "zero": false},
       "axis": {"orient": "bottom", "title": "Binding Energy (eV)", "values": [282,284,286,288,290], "format": "d", "tickSize": -3.5, "labelFont": "Liberation Sans", "labelFontSize": 8, "labelColor": "#333", "labelPadding": 8, "titlePadding": 4}},
     "y": {"field": "i", "type": "quantitative", "scale": {"domain": [0, 100], "nice": false, "zero": false}, "axis": {"title": "Intensity (cps)", "titlePadding": 11}},
     "color": {"field": "s", "type": "nominal", "scale": {"domain": ["env", "base", "cc", "co", "ceo"], "range": ["#111111", "#cc66cc", "#e5336e", "#5ee05e", "#d860d8"]}, "legend": null}
    }},
   {"data": {"name": "dlab"}, "transform": [{"filter": "datum.k === 'peak'"}], "mark": {"type": "text", "font": "Liberation Serif", "fontSize": 10.5, "color": "#222", "align": "center", "baseline": "middle"},
    "encoding": {"x": {"field": "e", "type": "quantitative", "axis": {"orient": "bottom", "values": [281,283,285,287,289], "labels": false, "title": null, "tickSize": -2}}, "y": {"field": "i", "type": "quantitative"}, "text": {"field": "t"}}},
   {"data": {"name": "dlab"}, "transform": [{"filter": "datum.k === 'panel'"}], "mark": {"type": "text", "font": "Liberation Serif", "fontSize": 20, "color": "#111", "align": "center", "baseline": "middle"},
    "encoding": {"x": {"field": "e", "type": "quantitative", "axis": null}, "y": {"field": "i", "type": "quantitative"}, "text": {"field": "t"}}}
  ]
 }
]
}
